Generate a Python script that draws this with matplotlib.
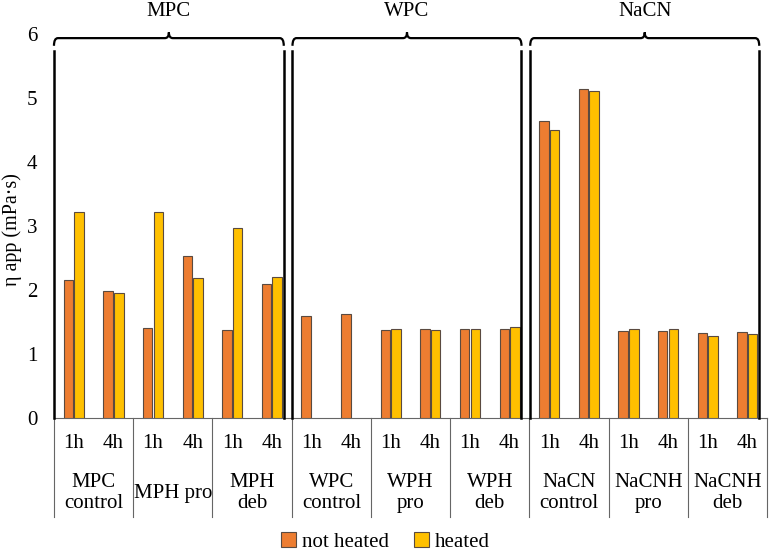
import matplotlib
matplotlib.use("Agg")
import matplotlib.pyplot as plt
from matplotlib.path import Path
from matplotlib.patches import PathPatch
import numpy as np

plt.rcParams['font.family'] = ['Liberation Serif', 'DejaVu Serif']

categories = ["MPC\ncontrol", "MPH pro", "MPH\ndeb", "WPC\ncontrol", "WPH\npro", "WPH\ndeb",
              "NaCN\ncontrol", "NaCNH\npro", "NaCNH\ndeb"]
times = ["1h", "4h"]
groups = ["MPC", "WPC", "NaCN"]
not_heated = [2.16, 1.98, 1.41, 2.53, 1.38, 2.09,
              1.60, 1.63, 1.38, 1.40, 1.40, 1.39,
              4.65, 5.15, 1.36, 1.36, 1.33, 1.35]
heated = [3.22, 1.95, 3.22, 2.19, 2.97, 2.21,
          0.0, 0.0, 1.40, 1.38, 1.40, 1.43,
          4.50, 5.12, 1.40, 1.40, 1.28, 1.31]
series_names = ["not heated", "heated"]
colors = ["#ED7D31", "#FFC000"]

fs = 15
fig = plt.figure(figsize=(7.71, 5.53), dpi=100)
ax = fig.add_axes([0.070, 0.244, 0.925, 0.694])

n = len(not_heated)
x = np.arange(n)
w = 0.24
off = 0.135
ax.bar(x - off, not_heated, w, color=colors[0], edgecolor="#5a4a40", linewidth=0.8,
       label=series_names[0], zorder=3)
hv = np.array(heated)
mask = hv > 0
ax.bar(x[mask] + off, hv[mask], w, color=colors[1], edgecolor="#5a4a40", linewidth=0.8,
       label=series_names[1], zorder=3)

ax.set_xlim(-0.5, n - 0.5)
ax.set_ylim(0, 6)
ax.set_yticks(range(0, 7))
ax.tick_params(axis='y', length=0, labelsize=fs, pad=12)
ax.tick_params(axis='x', length=0, labelbottom=False)
for s in ["top", "right", "left"]:
    ax.spines[s].set_visible(False)
ax.spines["bottom"].set_color("#666666")
ax.spines["bottom"].set_linewidth(0.8)
ax.set_ylabel("η app (mPa·s)", fontsize=14.5)
ax.yaxis.set_label_coords(-0.045, 0.49)

# bottom multi-level labels
trans = ax.get_xaxis_transform()
for i in range(n):
    ax.text(i, -0.066, times[i % 2], transform=trans, ha='center', va='center', fontsize=fs)
for c, name in enumerate(categories):
    xc = 2 * c + 0.5
    ax.text(xc, -0.196, name, transform=trans, ha='center', va='center', fontsize=fs,
            linespacing=1.12)
for b in range(0, n + 1, 2):
    ax.plot([b - 0.5, b - 0.5], [0, -0.258], transform=trans, color="#666666", lw=0.8,
            clip_on=False)

# braces
ytop = 5.94
hcurl = 0.12
notch = 0.09
for g, name in enumerate(groups):
    x0 = 6 * g - 0.5 + (0.02 if g > 0 else 0.0)
    x1 = 6 * g + 5.5 - 0.2
    xm = (x0 + x1) / 2
    r = 0.1
    verts = [(x0, ytop - hcurl), (x0, ytop), (x0 + r, ytop),
             (xm - r, ytop), (xm, ytop), (xm, ytop + notch),
             (xm, ytop), (xm + r, ytop),
             (x1 - r, ytop), (x1, ytop), (x1, ytop - hcurl)]
    codes = [Path.MOVETO, Path.CURVE3, Path.CURVE3,
             Path.LINETO, Path.CURVE3, Path.CURVE3,
             Path.CURVE3, Path.CURVE3,
             Path.LINETO, Path.CURVE3, Path.CURVE3]
    ax.add_patch(PathPatch(Path(verts, codes), fill=False, lw=1.6, color="black",
                           clip_on=False, zorder=4))
    gap = 0.08
    ax.plot([x0, x0], [0, ytop - hcurl - gap], color="black", lw=1.8, zorder=4,
            clip_on=False)
    ax.plot([x1, x1], [0, ytop - hcurl - gap], color="black", lw=1.8, zorder=4,
            clip_on=False)
    ax.text(xm, 6.36, name, ha='center', va='center', fontsize=fs)

leg = fig.legend(loc='center', bbox_to_anchor=(0.5, 0.02), ncol=2, frameon=False,
                 fontsize=fs, handlelength=0.7, handleheight=0.7, handletextpad=0.3,
                 columnspacing=1.2)

fig.savefig("out.png", dpi=100)
